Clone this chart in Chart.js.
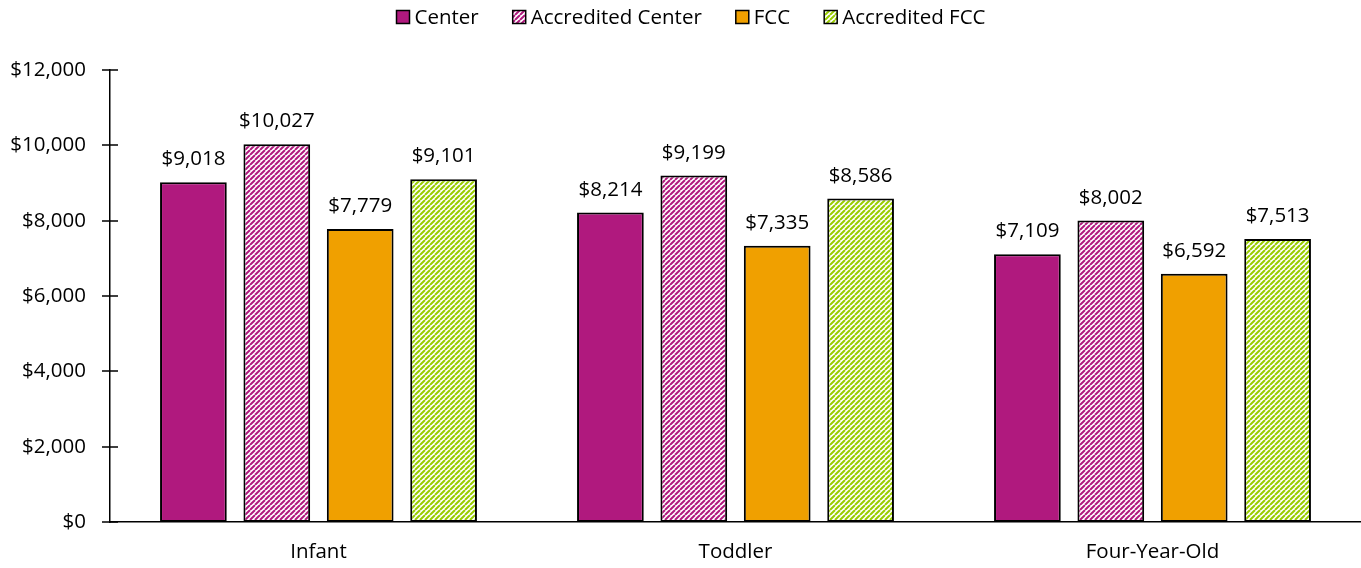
<!DOCTYPE html>
<html>
<head>
<meta charset="utf-8">
<script src="https://cdn.jsdelivr.net/npm/chart.js@4.4.0/dist/chart.umd.min.js"></script>
<style>
  html, body { margin:0; padding:0; background:#fff; }
  #wrap { width:1361px; height:568px; }
</style>
</head>
<body>
<div id="wrap"><canvas id="chart"></canvas></div>
<script>
// DATA
const categories = ['Infant', 'Toddler', 'Four-Year-Old'];
const center           = [9018, 8214, 7109];
const accreditedCenter = [10027, 9199, 8002];
const fcc              = [7779, 7335, 6592];
const accreditedFcc    = [9101, 8586, 7513];
const yTicks = [0, 2000, 4000, 6000, 8000, 10000, 12000];

const MAGENTA = '#B0197E';
const ORANGE  = '#F0A000';
const GREEN   = '#99CC00';
const FONT = '"Open Sans", sans-serif';
const FSIZE = 20.5;

// diagonal stripe fill (white / colour)
function stripes(color) {
  const s = 5;
  const c = document.createElement('canvas');
  c.width = s; c.height = s;
  const g = c.getContext('2d');
  g.fillStyle = '#fff';
  g.fillRect(0, 0, s, s);
  g.strokeStyle = color;
  g.lineWidth = 2;
  g.beginPath();
  for (let k = -1; k <= 1; k++) {
    g.moveTo(k * s, s);
    g.lineTo(k * s + s, 0);
  }
  g.stroke();
  return g.createPattern(c, 'repeat');
}

const fmt = v => '$' + v.toLocaleString('en-US');

// value labels above bars
const barLabels = {
  id: 'barLabels',
  afterDatasetsDraw(chart) {
    const ctx = chart.ctx;
    ctx.save();
    ctx.font = FSIZE + 'px ' + FONT;
    ctx.fillStyle = '#000';
    ctx.textAlign = 'center';
    ctx.textBaseline = 'alphabetic';
    chart.data.datasets.forEach((ds, i) => {
      chart.getDatasetMeta(i).data.forEach((bar, j) => {
        ctx.fillText(fmt(ds.data[j]), bar.x, bar.y - 17);
      });
    });
    ctx.restore();
  }
};

// tick marks crossing the y axis
const yAxisTicks = {
  id: 'yAxisTicks',
  afterDraw(chart) {
    const y = chart.scales.y, ctx = chart.ctx;
    const x0 = chart.chartArea.left;
    ctx.save();
    ctx.strokeStyle = '#000';
    ctx.lineWidth = 1.5;
    ctx.beginPath();
    yTicks.forEach(t => {
      const py = Math.round(y.getPixelForValue(t));
      ctx.moveTo(x0 - 8, py);
      ctx.lineTo(x0 + 8, py);
    });
    ctx.stroke();
    ctx.restore();
  }
};

// legend drawn by hand so spacing matches
const topLegend = {
  id: 'topLegend',
  afterDraw(chart) {
    const ctx = chart.ctx;
    const box = 13, gapText = 5, gapItem = 34, cy = 17;
    ctx.save();
    ctx.font = FSIZE + 'px ' + FONT;
    ctx.textBaseline = 'middle';
    const items = chart.data.datasets.map(ds => ({ ds, w: ctx.measureText(ds.label).width }));
    const total = items.reduce((a, it) => a + box + gapText + it.w, 0) + gapItem * (items.length - 1);
    let x = 691 - total / 2;
    items.forEach(it => {
      ctx.fillStyle = it.ds.backgroundColor;
      ctx.fillRect(x, cy - box / 2, box, box);
      ctx.strokeStyle = '#000';
      ctx.lineWidth = 1.5;
      ctx.strokeRect(x, cy - box / 2, box, box);
      ctx.fillStyle = '#000';
      ctx.fillText(it.ds.label, x + box + gapText, cy + 1);
      x += box + gapText + it.w + gapItem;
    });
    ctx.restore();
  }
};

const common = { borderColor:'#000', borderWidth:2, borderSkipped:false, barPercentage:0.8, categoryPercentage:0.8 };

new Chart(document.getElementById('chart'), {
  type: 'bar',
  data: {
    labels: categories,
    datasets: [
      { label:'Center', data:center, backgroundColor:MAGENTA, ...common },
      { label:'Accredited Center', data:accreditedCenter, backgroundColor:stripes(MAGENTA), ...common },
      { label:'FCC', data:fcc, backgroundColor:ORANGE, ...common },
      { label:'Accredited FCC', data:accreditedFcc, backgroundColor:stripes(GREEN), ...common }
    ]
  },
  options: {
    responsive: true,
    maintainAspectRatio: false,
    animation: false,
    layout: { padding: { left: 0, right: 0, top: 70, bottom: 0 } },
    plugins: {
      legend: { display: false },
      tooltip: { enabled: false }
    },
    scales: {
      x: {
        afterFit: axis => { axis.height = 46; },
        grid: { display: false },
        border: { color: '#000', width: 1.5 },
        ticks: { font: { family: FONT, size: FSIZE }, color: '#000', padding: 10 }
      },
      y: {
        min: 0, max: 12000,
        afterBuildTicks: axis => { axis.ticks = yTicks.map(v => ({ value: v })); },
        afterFit: axis => { axis.width = 110; },
        grid: { display: false },
        border: { color: '#000', width: 1.5 },
        ticks: { font: { family: FONT, size: FSIZE }, color: '#000', padding: 16, callback: v => fmt(v) }
      }
    }
  },
  plugins: [barLabels, yAxisTicks, topLegend]
});
</script>
</body>
</html>
